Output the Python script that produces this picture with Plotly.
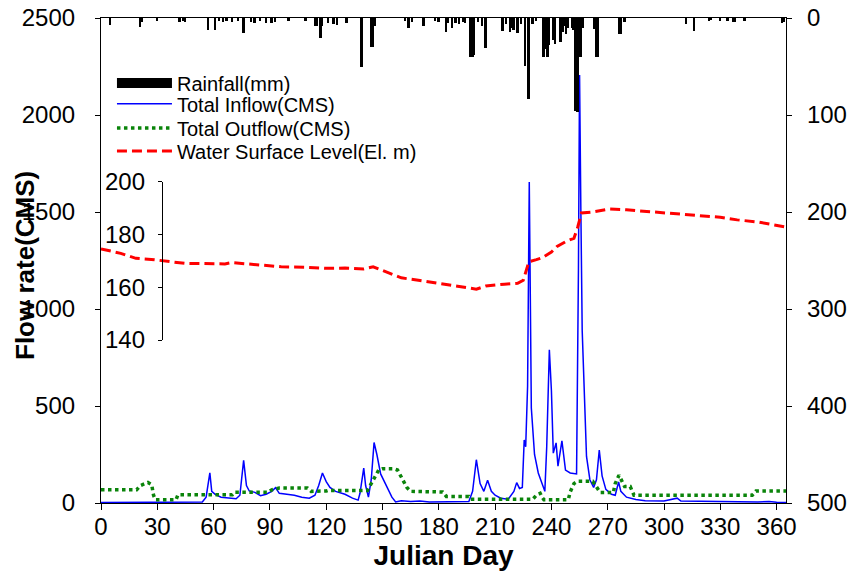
import plotly.graph_objects as go

# ---------------- data ----------------
rain_days = [5, 21, 22, 30, 42, 44, 45, 57, 61, 63, 65, 67, 70, 73, 76, 80, 82, 85, 88, 91, 93,
             100, 109, 114, 115, 117, 118, 121, 124, 126, 131, 139, 144, 145, 146, 162, 164, 166,
             172, 178, 180, 184, 185, 187, 189, 191, 193, 194, 197, 198, 199, 201, 203, 205, 214,
             216, 218, 219, 220, 222, 224, 226, 228, 230, 232, 236, 237, 238, 239, 241, 242, 245,
             246, 247, 248, 249, 251, 252, 253, 254, 255, 256, 257, 263, 264, 265, 276, 277, 279,
             312, 316, 324, 325, 330, 334, 337, 338, 343, 363, 364]
rain_mm = [7, 9, 4, 3, 4, 3, 4, 12, 12, 3, 4, 3, 4, 3, 15, 4, 5, 3, 5, 5, 4,
           3, 3, 8, 8, 21, 8, 5, 6, 7, 5, 50, 30, 30, 8, 3, 10, 4,
           8, 3, 4, 14, 5, 10, 5, 6, 4, 5, 40, 40, 38, 4, 8, 31, 13,
           6, 14, 10, 12, 15, 6, 49, 84, 6, 3, 40, 32, 40, 28, 23, 27, 25,
           14, 8, 16, 10, 10, 12, 96, 97, 40, 40, 10, 11, 40, 40, 17, 17, 4,
           6, 13, 3, 2, 3, 3, 4, 4, 3, 5, 4]

inflow_days = [0, 10, 18, 25, 35, 45, 54, 56, 58, 59, 61, 64, 68, 72, 74, 76, 77.5, 79, 82, 85,
               88, 91, 93, 95, 99, 103, 107, 111, 114, 116, 118, 120, 122, 125, 130, 134, 137,
               138, 140, 141, 142.5, 144, 145.5, 147, 149, 151, 153, 155, 157, 160, 165, 170,
               175, 180, 185, 190, 196, 198, 200, 202, 204, 206, 208, 210, 213, 217, 220, 221.5,
               223, 224.5, 225.5, 226.3, 227.3, 228.2, 228.8, 229.3, 231, 233, 235, 236.5, 237.5,
               238.9, 240, 241, 242.5, 243.5, 245.6, 247.5, 250, 253.4, 254.4, 255.0, 255.7,
               256.4, 258.7, 260.5, 262.5, 264, 265.5, 267, 269, 272, 274, 275.8, 277, 280, 285,
               290, 300, 306, 307, 309, 320, 330, 340, 350, 356, 360, 365]
inflow_cms = [2, 3, 2, 4, 2, 3, 5, 30, 155, 60, 43, 30, 25, 22, 40, 220, 90, 62, 55, 38,
              45, 60, 79, 50, 45, 40, 30, 25, 40, 90, 155, 110, 80, 60, 45, 25, 15,
              50, 180, 90, 30, 120, 312, 250, 150, 110, 70, 30, 5, 12, 8, 10,
              5, 6, 8, 6, 8, 60, 223, 100, 60, 117, 60, 40, 25, 20, 60, 105,
              75, 80, 325, 290, 600, 1655, 1100, 490, 250, 155, 100, 60, 290,
              790, 580, 257, 310, 190, 320, 170, 155, 150, 1200, 2206, 1500,
              890, 240, 120, 80, 120, 273, 140, 70, 45, 40, 108, 60, 30, 18,
              12, 10, 20, 25, 10, 8, 5, 4, 5, 8, 4, 3]

outflow_days = [0, 19, 21, 23, 25, 27, 28, 29, 40, 41, 70, 71, 89, 91, 95, 110, 112, 120, 121,
                142, 144, 146, 148, 150, 156, 158, 161, 163, 165, 182, 184, 196, 197, 230, 232,
                234, 235, 236, 249, 250, 252, 254, 262, 264, 266, 273, 274, 276, 277, 279, 282,
                283, 284, 347, 349, 365]
outflow_cms = [68, 68, 90, 100, 106, 95, 40, 17, 17, 43, 43, 55, 55, 68, 77, 77, 60, 62, 65,
               65, 100, 130, 170, 177, 177, 170, 120, 80, 60, 57, 34, 34, 19, 19, 40,
               50, 30, 17, 17, 57, 100, 112, 112, 80, 54, 54, 100, 143, 120, 85, 85,
               60, 40, 40, 62, 62]

level_days = [0, 10.5, 18.6, 26.8, 44.6, 66, 69.6, 83.7, 96, 110, 120, 130, 140, 145, 150, 155,
              160, 170, 180, 190, 200, 205, 215, 222, 225, 228, 232, 235, 240, 243, 248, 252,
              254, 256, 262, 271, 280, 292, 300, 318, 330, 339, 350, 365]
level_m = [174.6, 172.9, 171.0, 170.6, 169.1, 168.9, 169.4, 168.5, 167.8, 167.6, 167.2, 167.3,
           167.0, 167.8, 166.3, 164.9, 163.6, 162.6, 161.6, 160.4, 159.3, 160.5, 161.2, 161.5,
           162.7, 169.7, 170.5, 171.2, 173.4, 175.5, 177.5, 178.6, 182.8, 188.2, 188.6, 189.7,
           189.4, 188.7, 188.3, 187.2, 186.6, 185.6, 184.8, 182.9]

x_ticks = list(range(0, 361, 30))
flow_ticks = [0, 500, 1000, 1500, 2000, 2500]
rain_ticks = [0, 100, 200, 300, 400, 500]
level_ticks = [140, 160, 180, 200]

FONT = "Liberation Sans, Arial, sans-serif"

fig = go.Figure()

fig.add_trace(go.Bar(x=rain_days, y=rain_mm, width=1.0, marker=dict(color="black", line=dict(width=0)),
                     yaxis="y2", showlegend=False, name="Rainfall(mm)"))
fig.add_trace(go.Scatter(x=[None], y=[None], mode="lines", line=dict(color="black", width=10),
                         name="Rainfall(mm)", yaxis="y2", legend="legend"))
fig.add_trace(go.Scatter(x=inflow_days, y=inflow_cms, mode="lines", line=dict(color="#0000FF", width=1.5),
                         name="Total Inflow(CMS)", legend="legend2"))
fig.add_trace(go.Scatter(x=outflow_days, y=outflow_cms, mode="lines",
                         line=dict(color="#0A840A", width=3.5, dash="dot"),
                         name="Total Outflow(CMS)", legend="legend3"))
fig.add_trace(go.Scatter(x=level_days, y=level_m, mode="lines",
                         line=dict(color="#FF0000", width=3, dash="10px,5px"),
                         name="Water Surface Level(El. m)", yaxis="y3", legend="legend4"))

axis_common = dict(showline=True, linecolor="black", linewidth=1.2, ticks="outside",
                   tickcolor="black", showgrid=False, zeroline=False, automargin=False,
                   tickfont=dict(family=FONT, size=24, color="black"))

legend_common = dict(xanchor="left", yanchor="middle", bgcolor="rgba(0,0,0,0)",
                     font=dict(family=FONT, size=20, color="black"), itemwidth=55)

fig.update_layout(
    width=850, height=580,
    margin=dict(l=101, r=64, t=18, b=77, autoexpand=False),
    paper_bgcolor="white", plot_bgcolor="rgba(0,0,0,0)",
    font=dict(family=FONT, color="black"),
    bargap=0,
    xaxis=dict(range=[0, 365], tickvals=x_ticks, ticklen=6, mirror=True, ticklabelstandoff=-4,
               **axis_common,
               title=dict(text="<b>Julian Day</b>", font=dict(family=FONT, size=28), standoff=6)),
    yaxis=dict(range=[0, 2500], tickvals=flow_ticks, ticklen=5, ticklabelstandoff=15, **axis_common),
    yaxis2=dict(range=[500, 0], tickvals=rain_ticks, ticklen=5, side="right", overlaying="y",
                ticklabelstandoff=10, **axis_common),
    yaxis3=dict(range=[140, 200], tickvals=level_ticks, ticklen=4, side="left", anchor="free",
                position=0.089, domain=[0.336, 0.662], ticklabelstandoff=8, **axis_common),
    legend=dict(x=0.016, y=0.866, **legend_common),
    legend2=dict(x=0.016, y=0.823, **legend_common),
    legend3=dict(x=0.016, y=0.773, **legend_common),
    legend4=dict(x=0.016, y=0.726, **legend_common),
    annotations=[dict(text="<b>Flow rate(CMS)</b>", xref="paper", yref="paper", x=-0.11, y=0.49,
                      textangle=-90, showarrow=False, font=dict(family=FONT, size=26),
                      xanchor="center", yanchor="middle")],
)

fig.write_html("out.html", config={"displayModeBar": False},
               post_script="document.body.style.margin='0';")
